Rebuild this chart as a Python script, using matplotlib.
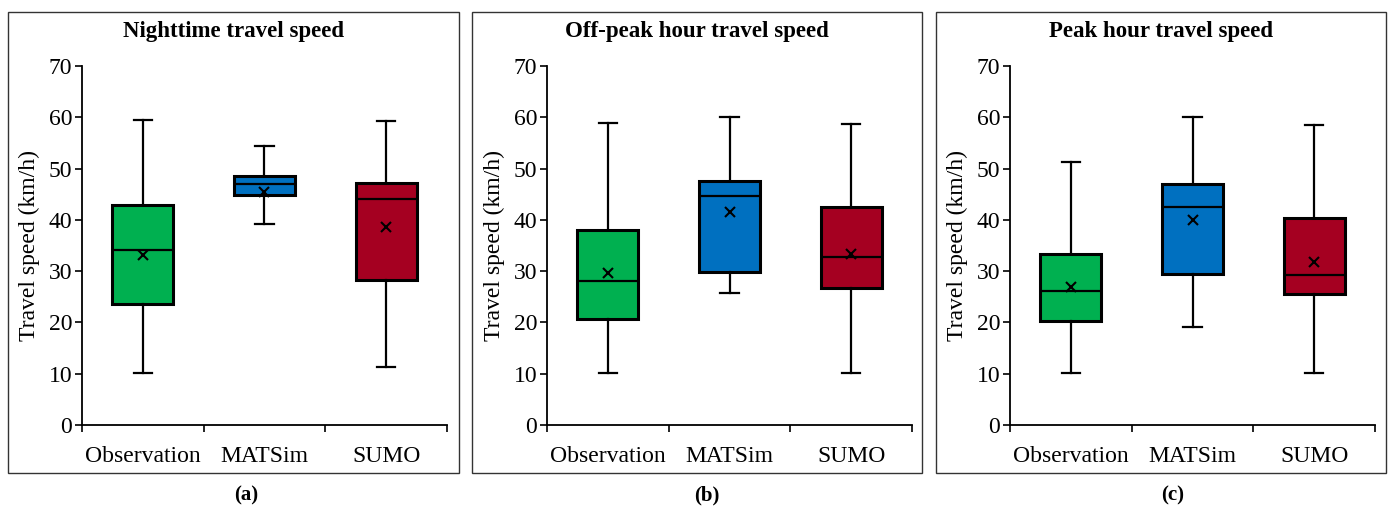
import matplotlib.pyplot as plt
from matplotlib.patches import Rectangle

plt.rcParams['font.family'] = ['Liberation Serif', 'DejaVu Serif']

categories = ['Observation', 'MATSim', 'SUMO']
titles = ['Nighttime travel speed', 'Off-peak hour travel speed', 'Peak hour travel speed']
panel_labels = ['(a)', '(b)', '(c)']
colors = ['#00B050', '#0070C0', '#A50021']

# per panel, per category: [whislo, q1, median, q3, whishi], mean
night_stats = [[10.2, 23.6, 34.2, 42.8, 59.5], [39.2, 44.8, 47.0, 48.6, 54.4], [11.3, 28.3, 44.1, 47.2, 59.3]]
night_mean = [33.2, 45.5, 38.7]
offpeak_stats = [[10.1, 20.7, 28.1, 38.0, 58.9], [25.8, 29.9, 44.6, 47.5, 60.0], [10.1, 26.8, 32.8, 42.5, 58.7]]
offpeak_mean = [29.7, 41.5, 33.4]
peak_stats = [[10.1, 20.3, 26.1, 33.4, 51.2], [19.2, 29.5, 42.6, 46.9, 60.0], [10.1, 25.6, 29.2, 40.3, 58.4]]
peak_mean = [27.0, 39.9, 31.7]

all_stats = [night_stats, offpeak_stats, peak_stats]
all_means = [night_mean, offpeak_mean, peak_mean]

W, H = 1390, 509
fig = plt.figure(figsize=(W / 100, H / 100), dpi=100)

ax_left = [82, 547, 1010]
frames = [(8, 459), (472, 922), (936, 1386)]
label_x = [246, 707, 1173]

for i in range(3):
    ax = fig.add_axes([ax_left[i] / W, 1 - 425 / H, 365 / W, (425 - 66) / H])
    stats = []
    for j, s in enumerate(all_stats[i]):
        stats.append(dict(whislo=s[0], q1=s[1], med=s[2], q3=s[3], whishi=s[4],
                          mean=all_means[i][j], fliers=[]))
    bp = ax.bxp(stats, positions=[1, 2, 3], widths=0.5, capwidths=0.15,
                patch_artist=True, showmeans=True,
                boxprops=dict(linewidth=2.2, edgecolor='black'),
                medianprops=dict(color='black', linewidth=1.6),
                whiskerprops=dict(color='black', linewidth=1.6),
                capprops=dict(color='black', linewidth=1.6),
                meanprops=dict(marker='x', markeredgecolor='black', markersize=7,
                               markeredgewidth=1.5))
    for patch, c in zip(bp['boxes'], colors):
        patch.set_facecolor(c)

    ax.set_xlim(0.5, 3.5)
    ax.set_ylim(0, 70)
    ax.set_yticks(range(0, 71, 10))
    ax.set_xticks([0.5, 1.5, 2.5, 3.5])
    ax.set_xticklabels([])
    ax.set_xticks([1, 2, 3], minor=True)
    ax.set_xticklabels(categories, minor=True)
    ax.tick_params(axis='x', which='minor', length=0, pad=15, labelsize=17)
    ax.tick_params(axis='x', which='major', length=5, width=1.2, direction='out')
    ax.tick_params(axis='y', length=5, width=1.2, labelsize=17, pad=2)
    for side in ['top', 'right']:
        ax.spines[side].set_visible(False)
    for side in ['left', 'bottom']:
        ax.spines[side].set_linewidth(1.3)
    ax.set_ylabel('Travel speed (km/h)', fontsize=17, labelpad=6)

    x0, x1 = frames[i]
    fig.patches.append(Rectangle((x0 / W, 1 - 473 / H), (x1 - x0) / W, (473 - 12) / H,
                                 transform=fig.transFigure, fill=False,
                                 edgecolor='#333333', linewidth=1.0))
    fig.text((x0 + x1) / 2 / W, 1 - 32 / H, titles[i], ha='center', va='center',
             fontsize=16.5, fontweight='bold')
    fig.text(label_x[i] / W, 1 - 495 / H, panel_labels[i], ha='center', va='center',
             fontsize=15, fontweight='bold')

fig.savefig('out.png', dpi=100)
